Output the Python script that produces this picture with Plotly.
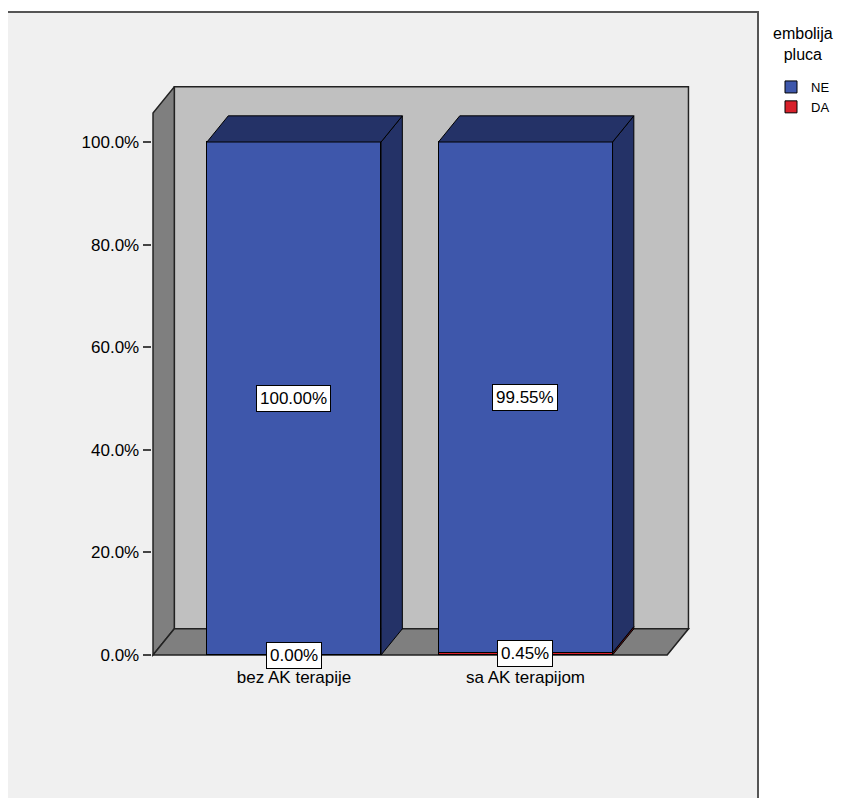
import plotly.graph_objects as go

# ---------------- data ----------------
categories = ["bez AK terapije", "sa AK terapijom"]
series_names = ["NE", "DA"]
ne_values = [100.00, 99.55]
da_values = [0.00, 0.45]
y_tick_values = [0, 20, 40, 60, 80, 100]
legend_title = "embolija<br>pluca"

# ---------------- style ----------------
W, H = 850, 798
OFF = 8                # page body margin of the html page
FONT = "Liberation Sans, Arial, sans-serif"
FS = 17
NE_FRONT, NE_DARK = "#3E57AB", "#243267"
DA_FRONT, DA_DARK = "#D8202A", "#6B1015"
BACK_WALL = "#C0C0C0"
SIDE_WALL = "#7F7F7F"
FRAME_BG = "#F0F0F0"

BAR_W = 0.752          # bar width in category units
DX, DY = 0.092, 5.1    # 3D depth offset in axis units
X_RANGE = [-0.615, 1.71]
Y_RANGE = [-0.4, 110.9]
WALL_TOP = 105.65      # front-plane height of side wall

# plot area in page pixels (computed from scale)
PX_PER_X, X0_PX = 231.5, 294.0
PX_PER_Y, Y0_PX = 5.13, 655.0
x_left_px = X0_PX + X_RANGE[0] * PX_PER_X - OFF
x_right_px = X0_PX + X_RANGE[1] * PX_PER_X - OFF
y_bot_px = Y0_PX - Y_RANGE[0] * PX_PER_Y - OFF
y_top_px = Y0_PX - Y_RANGE[1] * PX_PER_Y - OFF

xs = list(range(len(categories)))

fig = go.Figure()
fig.add_trace(go.Bar(
    x=xs, y=da_values, name=series_names[1], width=BAR_W,
    marker=dict(color=DA_FRONT, line=dict(color="black", width=1)),
    legendrank=2, hoverinfo="skip"))
fig.add_trace(go.Bar(
    x=xs, y=ne_values, name=series_names[0], width=BAR_W,
    marker=dict(color=NE_FRONT, line=dict(color="black", width=1)),
    legendrank=1, hoverinfo="skip"))

shapes = []
# outer chart frame (paper pixels)
shapes.append(dict(type="rect", xref="paper", yref="paper",
                   x0=(6 - OFF) / W, x1=(758 - OFF) / W, y0=-0.05, y1=1 - (12 - OFF) / H,
                   fillcolor=FRAME_BG, line=dict(color="#555555", width=2),
                   layer="below"))

xl = X_RANGE[0] + 0.006
xr_front = X_RANGE[1] - DX - 0.006
# back wall
shapes.append(dict(type="rect", xref="x", yref="y",
                   x0=xl + DX, x1=xr_front + DX, y0=DY, y1=WALL_TOP + DY,
                   fillcolor=BACK_WALL, line=dict(color="#222222", width=1.5),
                   layer="below"))
# left wall
shapes.append(dict(type="path", xref="x", yref="y",
                   path=f"M{xl},0 L{xl},{WALL_TOP} L{xl+DX},{WALL_TOP+DY} L{xl+DX},{DY} Z",
                   fillcolor=SIDE_WALL, line=dict(color="#222222", width=1.5),
                   layer="below"))
# floor
shapes.append(dict(type="path", xref="x", yref="y",
                   path=f"M{xl},0 L{xr_front},0 L{xr_front+DX},{DY} L{xl+DX},{DY} Z",
                   fillcolor=SIDE_WALL, line=dict(color="#222222", width=1.5),
                   layer="below"))

# bar side and top faces derived from values
annotations = []
for i, x in enumerate(xs):
    x0, x1 = x - BAR_W / 2, x + BAR_W / 2
    base = 0.0
    segs = [(da_values[i], DA_DARK), (ne_values[i], NE_DARK)]
    for val, dark in segs:
        top = base + val
        if val > 0:
            shapes.append(dict(type="path", xref="x", yref="y",
                               path=f"M{x1},{base} L{x1+DX},{base+DY} L{x1+DX},{top+DY} L{x1},{top} Z",
                               fillcolor=dark, line=dict(color="black", width=1),
                               layer="above"))
        base = top
    shapes.append(dict(type="path", xref="x", yref="y",
                       path=f"M{x0},{base} L{x0+DX},{base+DY} L{x1+DX},{base+DY} L{x1},{base} Z",
                       fillcolor=NE_DARK, line=dict(color="black", width=1),
                       layer="above"))
    # value labels
    b = 0.0
    for val in (da_values[i], ne_values[i]):
        annotations.append(dict(x=x, y=b + val / 2, xref="x", yref="y",
                                text=f"{val:.2f}%", showarrow=False,
                                font=dict(family=FONT, size=FS, color="black"),
                                bgcolor="white", bordercolor="black",
                                borderwidth=1, borderpad=3))
        b += val

# legend title (centered above the legend items)
annotations.append(dict(x=(803 - OFF) / W, y=1 - (44 - OFF) / H,
                        xref="paper", yref="paper",
                        xanchor="center", yanchor="middle", align="center",
                        text=legend_title, showarrow=False,
                        font=dict(family=FONT, size=16, color="black")))

fig.update_layout(
    width=W, height=H,
    margin=dict(l=0, r=0, t=0, b=0, autoexpand=False),
    paper_bgcolor="white", plot_bgcolor="rgba(0,0,0,0)",
    barmode="stack", bargap=0,
    font=dict(family=FONT, size=FS, color="black"),
    shapes=shapes, annotations=annotations,
    showlegend=True,
    legend=dict(x=(771 - OFF) / W, y=1 - (72 - OFF) / H, xanchor="left", yanchor="top",
                bgcolor="rgba(0,0,0,0)", traceorder="normal",
                font=dict(family=FONT, size=13),
                itemwidth=30, tracegroupgap=0),
    xaxis=dict(domain=[x_left_px / W, x_right_px / W], range=X_RANGE,
               tickmode="array", tickvals=xs, ticktext=categories,
               showgrid=False, zeroline=False, showline=False, automargin=False,
               ticks="", ticklabelstandoff=8,
               tickfont=dict(family=FONT, size=FS)),
    yaxis=dict(domain=[1 - y_bot_px / H, 1 - y_top_px / H], range=Y_RANGE,
               tickmode="array", tickvals=y_tick_values,
               ticktext=[f"{v:.1f}%" for v in y_tick_values],
               showgrid=False, zeroline=False, showline=False, automargin=False,
               ticks="outside", ticklen=8, tickwidth=1.5, tickcolor="#444444",
               tickfont=dict(family=FONT, size=FS)),
)

fig.write_html("out.html")
